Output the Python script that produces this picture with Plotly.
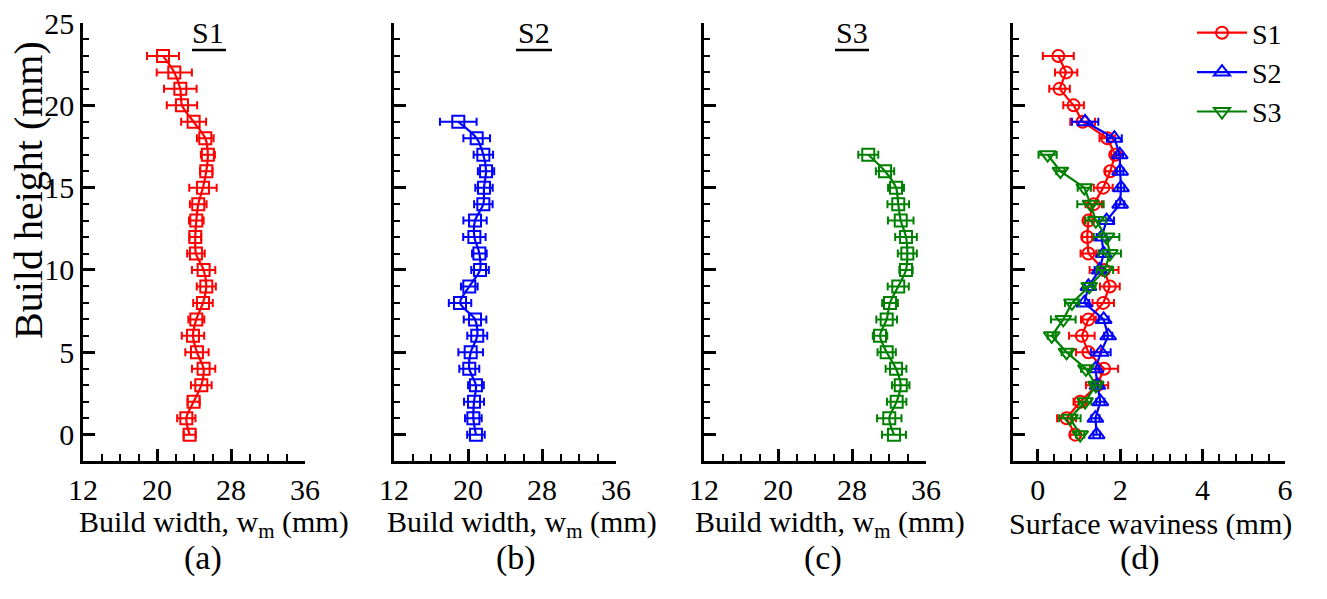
import numpy as np
import plotly.graph_objects as go

# Build heights (mm) at which each wall was measured
height_s1 = list(range(0, 24))
height_s2 = list(range(0, 20))
height_s3 = list(range(0, 18))

# Build width w_m (mm) and its scatter
width_s1 = [23.53, 23.17, 23.96, 24.79, 25.04, 24.32, 23.89, 24.25, 24.97, 25.33, 25.04, 24.21,
            24.14, 24.25, 24.46, 24.97, 25.33, 25.50, 25.22, 23.96, 22.70, 22.52, 21.87, 20.65]
width_s1_err = [0.65, 0.99, 0.65, 1.12, 1.26, 1.26, 1.21, 0.86, 1.06, 1.03, 1.26, 0.95,
                0.63, 0.79, 0.90, 1.48, 0.68, 0.76, 0.90, 1.35, 1.64, 1.76, 1.90, 1.73]
width_s2 = [20.86, 20.58, 20.65, 20.86, 20.14, 20.29, 21.00, 20.76, 19.14, 20.14,
            21.30, 21.23, 20.69, 20.76, 21.66, 21.73, 21.95, 21.66, 20.94, 18.95]
width_s2_err = [0.95, 0.90, 1.08, 0.85, 1.08, 1.33, 1.08, 1.22, 1.21, 0.90,
                0.95, 0.79, 1.21, 1.26, 1.00, 0.94, 0.88, 1.05, 1.44, 1.98]
width_s3 = [32.54, 32.03, 32.83, 33.27, 32.76, 31.75, 31.03, 31.75, 32.11,
            33.00, 33.84, 33.98, 33.84, 33.27, 33.00, 32.76, 31.57, 29.76]
width_s3_err = [1.30, 1.32, 1.05, 0.94, 1.12, 0.99, 0.78, 1.12, 0.85,
                1.14, 0.72, 1.03, 1.17, 1.38, 1.17, 0.86, 0.99, 1.08]

# Surface waviness (mm) and its scatter
wav_s1 = [0.91, 0.70, 1.03, 1.44, 1.61, 1.23, 1.07, 1.23, 1.59, 1.75, 1.61, 1.23,
          1.20, 1.23, 1.36, 1.59, 1.76, 1.88, 1.69, 1.09, 0.87, 0.53, 0.69, 0.50]
wav_s1_err = [0.12, 0.23, 0.16, 0.27, 0.34, 0.30, 0.31, 0.18, 0.26, 0.24, 0.35, 0.19,
              0.12, 0.10, 0.20, 0.23, 0.12, 0.10, 0.19, 0.30, 0.25, 0.25, 0.27, 0.375]
wav_s2 = [1.43, 1.40, 1.52, 1.45, 1.40, 1.53, 1.71, 1.60, 1.13, 1.23,
          1.50, 1.60, 1.55, 1.67, 2.00, 2.02, 2.00, 1.99, 1.86, 1.15]
wav_s2_err = [0.08, 0.10, 0.10, 0.12, 0.10, 0.24, 0.10, 0.12, 0.12, 0.10,
              0.12, 0.12, 0.12, 0.18, 0.10, 0.08, 0.08, 0.08, 0.18, 0.32]
wav_s3 = [1.03, 0.78, 1.15, 1.41, 1.17, 0.70, 0.34, 0.62, 0.83,
          1.25, 1.63, 1.75, 1.67, 1.41, 1.28, 1.13, 0.55, 0.24]
wav_s3_err = [0.10, 0.26, 0.15, 0.12, 0.12, 0.12, 0.10, 0.30, 0.17,
              0.15, 0.20, 0.27, 0.31, 0.25, 0.32, 0.16, 0.10, 0.22]

sample_names = ["S1", "S2", "S3"]
panel_tags = ["(a)", "(b)", "(c)", "(d)"]
x_titles = ["Build width, w<sub>m</sub> (mm)"] * 3 + ["Surface waviness (mm)"]
y_title = "Build height (mm)"
height_ticks = [0, 5, 10, 15, 20, 25]

RED, BLUE, GREEN = "#FF0000", "#0000FF", "#008000"
FONT = "Liberation Serif, Times New Roman, serif"

W, H = 1327, 599
# panel placement (pixels from top-left)
px_x = [(83, 305), (394, 616), (704, 926), (1013, 1285)]
px_top, px_bot = 23, 461


def fx(p):
    return p / W


def fy(p):
    return 1 - p / H


fig = go.Figure()

width_sets = [
    (height_s1, width_s1, width_s1_err, RED),
    (height_s2, width_s2, width_s2_err, BLUE),
    (height_s3, width_s3, width_s3_err, GREEN),
]
for i, (h, w, e, c) in enumerate(width_sets):
    ax = "" if i == 0 else str(i + 1)
    fig.add_trace(go.Scatter(
        x=w, y=h, xaxis="x" + ax, yaxis="y" + ax,
        mode="lines+markers", showlegend=False,
        line=dict(color=c, width=2.2, shape="spline", smoothing=0.8),
        marker=dict(symbol="square-open", size=12, color=c, line=dict(width=2, color=c)),
        error_x=dict(type="data", array=e, visible=True, color=c, thickness=2, width=4),
    ))

wav_sets = [
    (height_s1, wav_s1, wav_s1_err, RED, "circle-open", 12),
    (height_s2, wav_s2, wav_s2_err, BLUE, "triangle-up-open", 14),
    (height_s3, wav_s3, wav_s3_err, GREEN, "triangle-down-open", 14),
]
for name, (h, w, e, c, sym, sz) in zip(sample_names, wav_sets):
    fig.add_trace(go.Scatter(
        x=w, y=h, xaxis="x4", yaxis="y4", name=name,
        mode="lines+markers",
        line=dict(color=c, width=2.2),
        marker=dict(symbol=sym, size=sz, color=c, line=dict(width=2, color=c)),
        error_x=dict(type="data", array=e, visible=True, color=c, thickness=2, width=4),
    ))

axis_common = dict(
    showline=True, linecolor="black", linewidth=2.5, mirror=False, automargin=False,
    ticks="inside", ticklen=12, tickwidth=2.5, tickcolor="black",
    showgrid=False, zeroline=False,
    tickfont=dict(family=FONT, size=30, color="black"),
)

layout = dict(
    width=W, height=H,
    margin=dict(l=0, r=0, t=0, b=0, autoexpand=False),
    paper_bgcolor="white", plot_bgcolor="white",
    font=dict(family=FONT, color="black"),
    legend=dict(
        x=fx(1192), y=fy(8), xanchor="left", yanchor="top",
        font=dict(family=FONT, size=28, color="black"),
        itemwidth=50, bgcolor="rgba(0,0,0,0)", tracegroupgap=0,
    ),
)

for i in range(4):
    ax = "" if i == 0 else str(i + 1)
    x0, x1 = px_x[i]
    if i < 3:
        xr = [12, 36]
        xt = dict(tickmode="linear", tick0=12, dtick=8)
        xminor = dict(tickmode="array", tickvals=list(range(14, 36, 2)))
    else:
        xr = [-0.6, 6]
        xt = dict(tickmode="linear", tick0=0, dtick=2)
        xminor = dict(tickmode="array", tickvals=[round(v * 0.4, 1) for v in range(1, 15)])
    layout["xaxis" + ax] = dict(
        axis_common, domain=[fx(x0), fx(x1)], range=xr, anchor="y" + ax,
        minor=dict(ticks="inside", ticklen=7, tickwidth=2, tickcolor="black", **xminor),
        **xt,
    )
    layout["yaxis" + ax] = dict(
        axis_common, domain=[fy(px_bot), fy(px_top)], range=[-1.6, 25], anchor="x" + ax,
        tickmode="array", tickvals=height_ticks, showticklabels=(i == 0),
        minor=dict(ticks="inside", ticklen=6, tickwidth=2, tickcolor="black",
                   tickmode="array", tickvals=[v for v in range(1, 25) if v % 5]),
    )

fig.update_layout(**layout)


def label(text, px, py, size, angle=0):
    fig.add_annotation(x=fx(px), y=fy(py), xref="paper", yref="paper", text=text,
                       textangle=angle, showarrow=False,
                       xanchor="center", yanchor="middle",
                       font=dict(family=FONT, size=size, color="black"))


# Axis titles
label(y_title, 28, 190, 40, angle=-90)
title_x = [214, 522, 830, 1150]
for t, tx in zip(x_titles, title_x):
    label(t, tx, 524, 30)

# Sample names over the width panels, underlined
name_pos = [(208, 192, 226), (534, 516, 552), (852, 835, 869)]
for name, (cx, u0, u1) in zip(sample_names, name_pos):
    label(name, cx, 32, 30)
    fig.add_shape(type="line", xref="paper", yref="paper",
                  x0=fx(u0), x1=fx(u1), y0=fy(50), y1=fy(50),
                  line=dict(color="black", width=2.5))

# Panel tags under each plot
tag_x = [203, 516, 823, 1140]
for tag, tx in zip(panel_tags, tag_x):
    label(tag, tx, 558, 34)

fig.write_html("out.html")
